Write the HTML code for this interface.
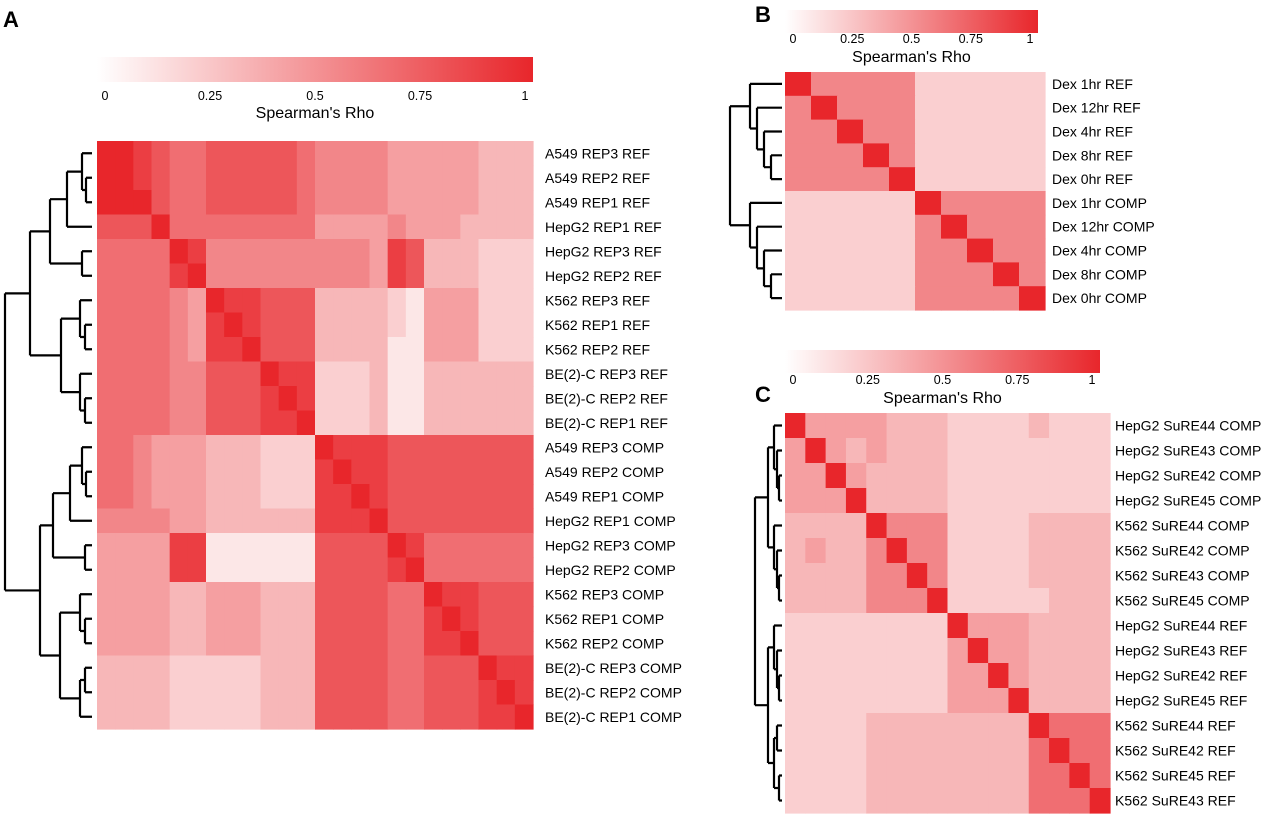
<!DOCTYPE html>
<html><head><meta charset="utf-8"><style>
body{margin:0;background:#fff;}
svg{display:block;font-family:"Liberation Sans",sans-serif;}
</style></head><body>
<svg id="fig" width="1280" height="815" viewBox="0 0 1280 815">
<defs><linearGradient id="cb" x1="0" x2="1"><stop offset="0" stop-color="#ffffff"/><stop offset="1" stop-color="#e8262b"/></linearGradient></defs>
<text x="3" y="27" font-size="22" font-weight="bold">A</text>
<text x="755" y="22" font-size="22" font-weight="bold">B</text>
<text x="755" y="402" font-size="22" font-weight="bold">C</text>
</svg>
<script>
// Panel A data (digits 0-9 -> rho = d/9)
const labelsA=["A549 REP3 REF","A549 REP2 REF","A549 REP1 REF","HepG2 REP1 REF","HepG2 REP3 REF","HepG2 REP2 REF","K562 REP3 REF","K562 REP1 REF","K562 REP2 REF","BE(2)-C REP3 REF","BE(2)-C REP2 REF","BE(2)-C REP1 REF","A549 REP3 COMP","A549 REP2 COMP","A549 REP1 COMP","HepG2 REP1 COMP","HepG2 REP3 COMP","HepG2 REP2 COMP","K562 REP3 COMP","K562 REP1 COMP","K562 REP2 COMP","BE(2)-C REP3 COMP","BE(2)-C REP2 COMP","BE(2)-C REP1 COMP"];
const valuesA=[
"998766777776555544444333",
"998766777776555544444333",
"999766777776555544444333",
"777966666666444454443333",
"666698555555555487333222",
"666689555555555487333222",
"666654988777333321444222",
"666654898777333321444222",
"666654889777333311444222",
"666655777988222311333333",
"666655777898222311333333",
"666655777889222311333333",
"665444333222988877777777",
"665444333222898877777777",
"665444333222889877777777",
"555544333333888977777777",
"444488111111777798666666",
"444488111111777789666666",
"444433444333777766988777",
"444433444333777766898777",
"444433444333777766889777",
"333322222333777766777988",
"333322222333777766777898",
"333322222333777766777889"];
const labelsB=["Dex 1hr REF","Dex 12hr REF","Dex 4hr REF","Dex 8hr REF","Dex 0hr REF","Dex 1hr COMP","Dex 12hr COMP","Dex 4hr COMP","Dex 8hr COMP","Dex 0hr COMP"];
const valuesB=[
"9555522222","5955522222","5595522222","5559522222","5555922222",
"2222295555","2222259555","2222255955","2222255595","2222255559"];
const labelsC=["HepG2 SuRE44 COMP","HepG2 SuRE43 COMP","HepG2 SuRE42 COMP","HepG2 SuRE45 COMP","K562 SuRE44 COMP","K562 SuRE42 COMP","K562 SuRE43 COMP","K562 SuRE45 COMP","HepG2 SuRE44 REF","HepG2 SuRE43 REF","HepG2 SuRE42 REF","HepG2 SuRE45 REF","K562 SuRE44 REF","K562 SuRE42 REF","K562 SuRE45 REF","K562 SuRE43 REF"];
const valuesC=[
"9444433322223222","4943433322222222","4494333322222222","4449333322222222",
"3333955522223333","3433595522223333","3333559522223333","3333555922222333",
"2222222294443333","2222222249443333","2222222244943333","2222222244493333",
"2222333333339666","2222333333336966","2222333333336696","2222333333336669"];
const ticks=["0","0.25","0.5","0.75","1"];
const treeA=[5,[30,[50,[67,[82,0,[86,1,2]],3],[82,4,5]],[61,[80,6,[85,7,8]],[80,9,[85,10,11]]]],[40,[53,[70,[82,12,[86,13,14]],15],[85,16,17]],[60,[80,18,[85,19,20]],[80,[85,21,22],23]]]];
const treeB=[730,[738,[750,0,[757,1,[764,2,[771,3,4]]]]],[738,[750,5,[757,6,[764,7,[771,8,9]]]]]];
const treeC=[755,[762,[768,[774,0,[777,1,[779,2,3]]],[774,4,[777,5,[779,6,7]]]]],[762,[768,[774,8,[777,9,[779,10,11]]],[774,[777,12,13],[779,14,15]]]]];

const NS="http://www.w3.org/2000/svg";
const svg=document.getElementById('fig');
function el(t,a){const e=document.createElementNS(NS,t);for(const k in a)e.setAttribute(k,a[k]);svg.appendChild(e);return e;}
function col(d){const v=d/9;return `rgb(${Math.round(255-v*23)},${Math.round(255-v*217)},${Math.round(255-v*212)})`;}
function heat(p,vals,labs,x0,y0,w,h,lx,fs){
  const n=vals.length,cw=w/n,ch=h/n;
  vals.forEach((row,i)=>{for(let j=0;j<n;j++){
    const r=el('rect',{x:x0+j*cw,y:y0+i*ch,width:cw+0.6,height:ch+0.6,fill:col(+row[j])});
    
    
  }
  const t=el('text',{x:lx,y:y0+(i+0.5)*ch+fs*0.36,'font-size':fs});
  t.textContent=labs[i];
  
  });
}
function cbar(p,x,y,w,h,ty,tty,fs,tfs){
  const r=el('rect',{x:x,y:y,width:w,height:h,fill:'url(#cb)'});
  
  
  ticks.forEach((tk,i)=>{const t=el('text',{x:x+8+i*(w-16)/4,y:ty,'font-size':fs,'text-anchor':'middle'});t.textContent=tk;
    
    });
  const t=el('text',{x:x+w/2,y:tty,'font-size':tfs,'text-anchor':'middle'});t.textContent="Spearman's Rho";
  
  
}
function tree(p,node,y0,ch,leafX){
  let d='';
  function rec(nd){
    if(typeof nd==='number')return {x:leafX,y:y0+(nd+0.5)*ch};
    const hx=nd[0];const cs=nd.slice(1).map(rec);
    cs.forEach(c=>{d+=`M${hx},${c.y}H${c.x}`;});
    const ys=cs.map(c=>c.y);d+=`M${hx},${Math.min(...ys)}V${Math.max(...ys)}`;
    return {x:hx,y:(Math.min(...ys)+Math.max(...ys))/2};
  }
  rec(node);
  const pth=el('path',{d:d,stroke:'#000','stroke-width':2.2,fill:'none'});
  
  
}
heat('panel-a',valuesA,labelsA,97,141,436,588,545,14);
cbar('panel-a',97,57,436,25,100,118,12.5,16);
tree('panel-a',treeA,141,588/24,92);
heat('panel-b',valuesB,labelsB,785,72,260,238,1052,14);
cbar('panel-b',785,10,253,23,43,62,12.5,16);
tree('panel-b',treeB,72,23.8,782);
heat('panel-c',valuesC,labelsC,785,413,325,400,1115,14);
cbar('panel-c',785,350,315,23,384,403,12.5,16);
tree('panel-c',treeC,413,25,782);
</script>
</body></html>
